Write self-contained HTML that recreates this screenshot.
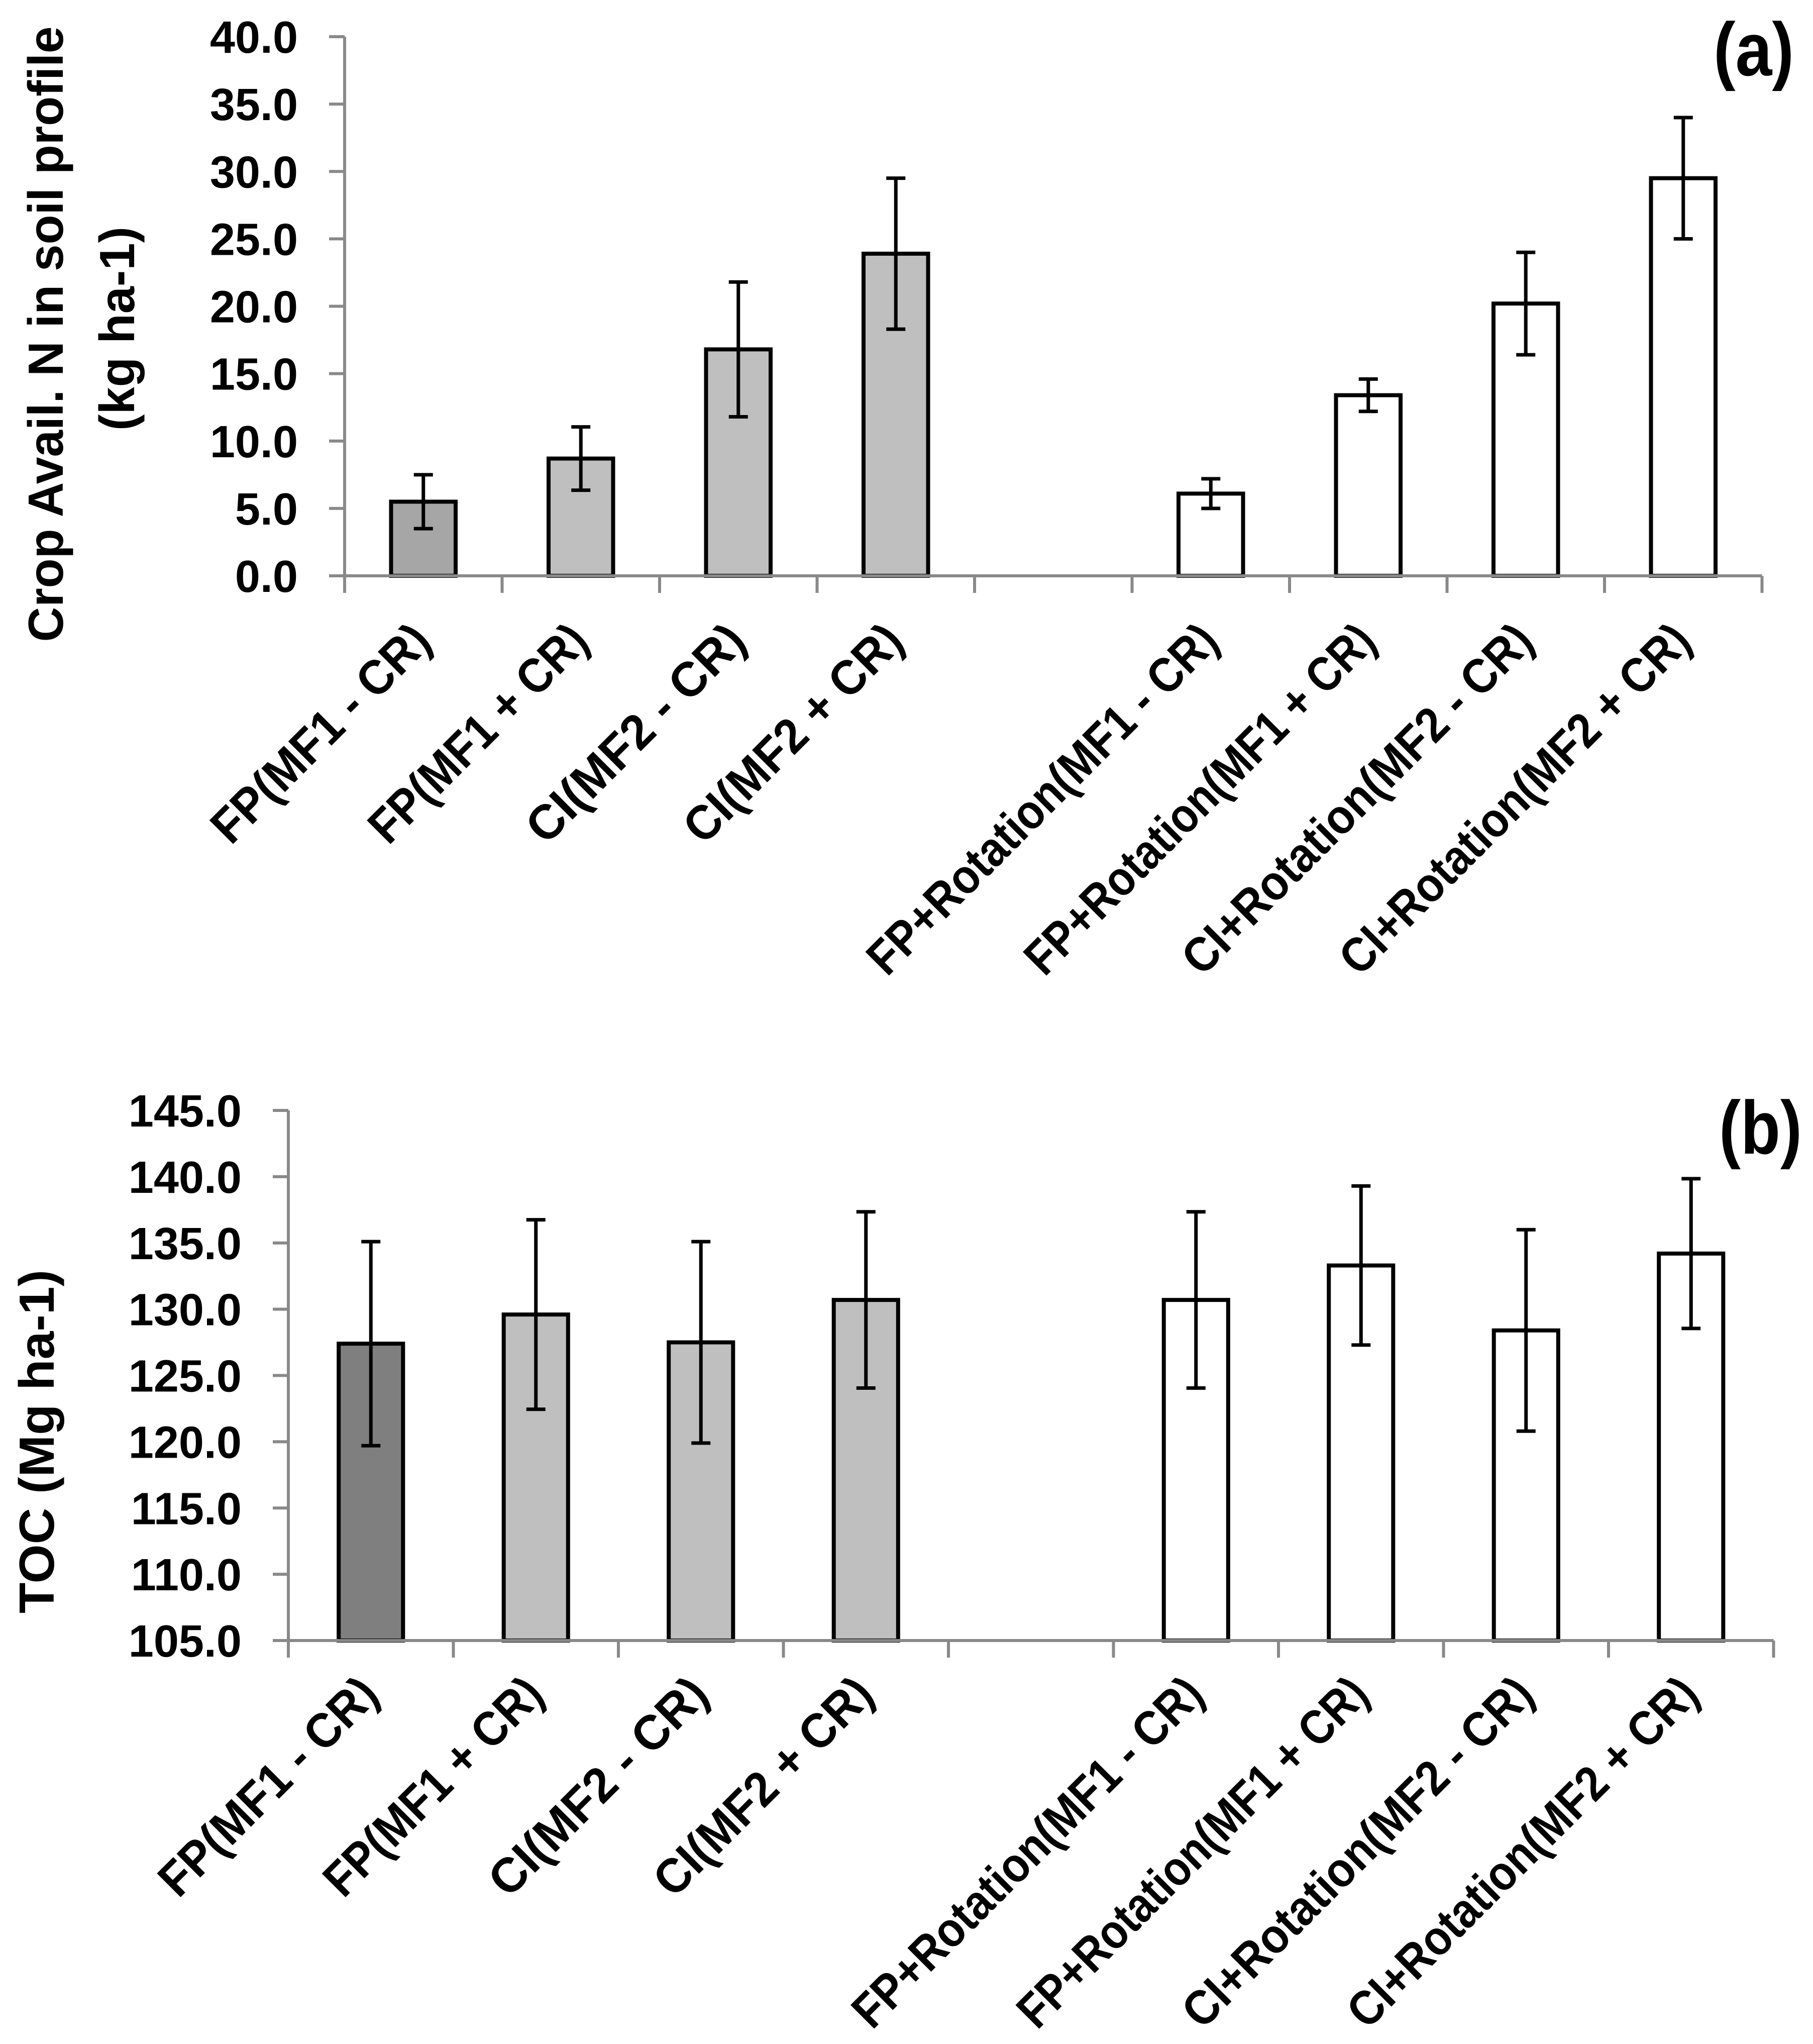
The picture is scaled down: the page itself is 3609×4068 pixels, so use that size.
<!DOCTYPE html>
<html><head><meta charset="utf-8">
<style>
html,body{margin:0;padding:0;background:#fff;}
svg{display:block;}
text{font-family:"Liberation Sans",sans-serif;font-weight:bold;fill:#000;}
</style></head>
<body>
<svg id="chart" width="3609" height="4068" viewBox="0 0 3609 4068" xmlns="http://www.w3.org/2000/svg">
<rect width="3609" height="4068" fill="#fff"/>
<g id="pa"></g>
<g id="pb"></g>
</svg>
<script>
const categories = ["FP(MF1 - CR)","FP(MF1 + CR)","CI(MF2 - CR)","CI(MF2 + CR)","","FP+Rotation(MF1 - CR)","FP+Rotation(MF1 + CR)","CI+Rotation(MF2 - CR)","CI+Rotation(MF2 + CR)"];
const valuesA = [5.5, 8.7, 16.8, 23.9, null, 6.1, 13.4, 20.2, 29.5];
const errorsA = [2.0, 2.35, 5.0, 5.6, null, 1.1, 1.2, 3.8, 4.5];
const ticksA = [0, 5, 10, 15, 20, 25, 30, 35, 40];
const tickLabelsA = ["0.0","5.0","10.0","15.0","20.0","25.0","30.0","35.0","40.0"];
const valuesB = [127.4, 129.6, 127.5, 130.7, null, 130.7, 133.3, 128.4, 134.2];
const errorsB = [7.7, 7.15, 7.6, 6.65, null, 6.65, 6.0, 7.6, 5.65];
const ticksB = [105, 110, 115, 120, 125, 130, 135, 140, 145];
const tickLabelsB = ["105.0","110.0","115.0","120.0","125.0","130.0","135.0","140.0","145.0"];
const fillsA = ["#a6a6a6","#bfbfbf","#bfbfbf","#bfbfbf","","#ffffff","#ffffff","#ffffff","#ffffff"];
const fillsB = ["#7f7f7f","#bfbfbf","#bfbfbf","#bfbfbf","","#ffffff","#ffffff","#ffffff","#ffffff"];

const NS = "http://www.w3.org/2000/svg";
function mk(parent, tag, attrs){
  const e = document.createElementNS(NS, tag);
  for (const k in attrs) e.setAttribute(k, attrs[k]);
  parent.appendChild(e);
  return e;
}

function drawPanel(g, cfg){
  const {x0, slot, yMin, yMax, yBottom, yTop, values, errors, ticks, tickLabels, fills, barFrac, prefix, labelOffset} = cfg;
  const n = categories.length;
  const xEnd = x0 + slot*n;
  const yScale = v => yBottom - (v - yMin)/(yMax - yMin)*(yBottom - yTop);
  const xCenter = i => x0 + slot*(i + 0.5);
  const bw = slot*barFrac;
  for (let i=0;i<n;i++){
    if (values[i] === null) continue;
    const yv = yScale(values[i]);
    const r = mk(g,'rect',{x:xCenter(i)-bw/2, y:yv, width:bw, height:yBottom-yv, fill:fills[i], stroke:'#000','stroke-width':8});
    
    
    const yHi = yScale(values[i]+errors[i]), yLo = yScale(values[i]-errors[i]);
    const eg = mk(g,'g',{stroke:'#000','stroke-width':7});
    
    
    const cx = xCenter(i);
    mk(eg,'line',{x1:cx,y1:yHi,x2:cx,y2:yLo});
    mk(eg,'line',{x1:cx-19,y1:yHi,x2:cx+19,y2:yHi});
    mk(eg,'line',{x1:cx-19,y1:yLo,x2:cx+19,y2:yLo});
  }
  const ax = mk(g,'g',{stroke:'#898989','stroke-width':6});
  
  
  mk(ax,'line',{x1:x0,y1:yTop,x2:x0,y2:yBottom});
  mk(ax,'line',{x1:x0,y1:yBottom,x2:xEnd,y2:yBottom});
  for (let i=0;i<ticks.length;i++){
    const y = yScale(ticks[i]);
    mk(ax,'line',{x1:x0-31,y1:y,x2:x0,y2:y});
    const t = mk(g,'text',{x:x0-93, y:y+32, 'font-size':90, 'text-anchor':'end'});
    t.textContent = tickLabels[i];
    
    
  }
  for (let i=0;i<=n;i++){
    const x = x0 + slot*i;
    mk(ax,'line',{x1:x,y1:yBottom,x2:x,y2:yBottom+34});
  }
  for (let i=0;i<n;i++){
    if (!categories[i]) continue;
    const ax_ = xCenter(i)+20, ay_ = yBottom+labelOffset;
    const t = mk(g,'text',{x:ax_, y:ay_, 'font-size':97, 'text-anchor':'end', transform:`rotate(-45 ${ax_} ${ay_})`});
    t.textContent = categories[i];
    
    
    t.setAttribute('textLength', categories[i].length > 14 ? 940 : 570);
    t.setAttribute('lengthAdjust', 'spacingAndGlyphs');
  }
}

const pa = document.getElementById('pa');
drawPanel(pa, {x0:686, slot:313.5, yMin:0, yMax:40, yBottom:1146, yTop:73, values:valuesA, errors:errorsA, ticks:ticksA, tickLabels:tickLabelsA, fills:fillsA, barFrac:0.41, prefix:'a', labelOffset:135});
const pb = document.getElementById('pb');
drawPanel(pb, {x0:574, slot:328.5, yMin:105, yMax:145, yBottom:3265, yTop:2210, values:valuesB, errors:errorsB, ticks:ticksB, tickLabels:tickLabelsB, fills:fillsB, barFrac:0.39, prefix:'b', labelOffset:112});

function title(g, txt, x, y, fs, len, name){
  const t = mk(g,'text',{x:x, y:y, 'font-size':fs, 'text-anchor':'middle', transform:`rotate(-90 ${x} ${y})`, textLength:len, lengthAdjust:'spacingAndGlyphs'});
  t.textContent = txt;
  
  
}
title(pa, "Crop Avail. N in soil profile", 125, 665, 98, 1225, 'a-y-axis-title-line1');
title(pa, "(kg ha-1)", 267, 654, 98, 406, 'a-y-axis-title-line2');
title(pb, "TOC (Mg ha-1)", 107, 2869, 98, 684, 'b-y-axis-title');

const la = mk(pa,'text',{x:3571, y:150, 'font-size':150, 'text-anchor':'end', textLength:160, lengthAdjust:'spacingAndGlyphs'});
la.textContent = "(a)";


const lb = mk(pb,'text',{x:3587, y:2296, 'font-size':150, 'text-anchor':'end', textLength:165, lengthAdjust:'spacingAndGlyphs'});
lb.textContent = "(b)";


</script>
</body></html>
